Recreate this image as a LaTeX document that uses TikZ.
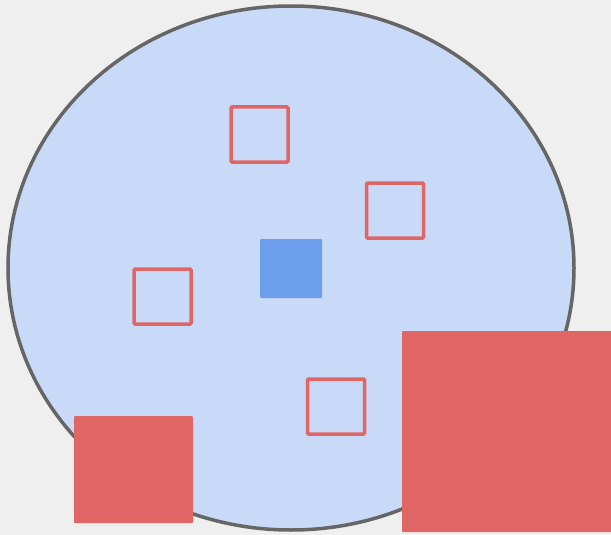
\documentclass[tikz,border=0pt]{standalone}
\definecolor{bggrey}{HTML}{EFEFEF}
\definecolor{cellblue}{HTML}{C9DAF8}
\definecolor{rimgrey}{HTML}{666666}
\definecolor{darkblue}{HTML}{6D9EEB}
\definecolor{softred}{HTML}{E06666}
\begin{document}
\begin{tikzpicture}[x=1pt, y=-1pt,
  hollow/.style={draw=softred, line width=3.5pt, rounded corners=1pt, minimum width=57pt, minimum height=55pt, inner sep=0pt},
  solid/.style={fill=#1, rounded corners=1pt, inner sep=0pt}]
  \fill[bggrey] (0,0) rectangle (611,535);
  \useasboundingbox (0,0) rectangle (611,535);
  % cell body
  \draw[rimgrey, fill=cellblue, line width=3.5pt] (291,268) ellipse [x radius=283, y radius=262];
  % small outlined squares
  \node[hollow] (sqA) at (259.5,134.5) {};
  \node[hollow] (sqB) at (395,210.5) {};
  \node[hollow] (sqC) at (162.5,296.5) {};
  \node[hollow] (sqD) at (336,406.5) {};
  % core
  \node[solid=darkblue, minimum width=62pt, minimum height=59pt] (core) at (291,268.5) {};
  % filled blocks
  \node[solid=softred, minimum width=119pt, minimum height=107pt] (blockL) at (133.5,469.5) {};
  \node[solid=softred, minimum width=210pt, minimum height=201pt] (blockR) at (507,431.5) {};
\end{tikzpicture}
\end{document}
